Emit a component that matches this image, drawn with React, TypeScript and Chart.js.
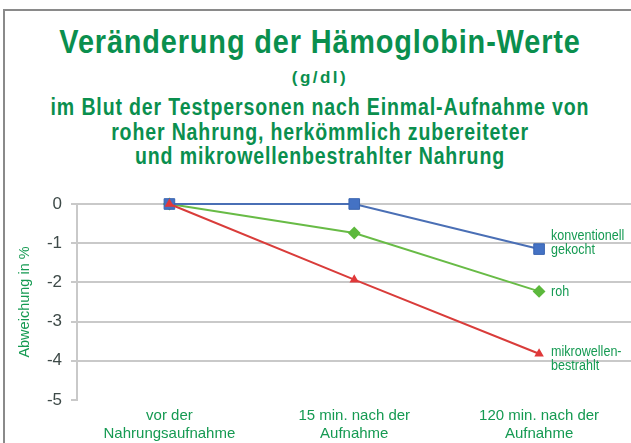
import React, { useEffect, useRef } from 'react';
import { Chart, registerables } from 'chart.js';
Chart.register(...registerables);

const categories = [
  ['vor der', 'Nahrungsaufnahme'],
  ['15 min. nach der', 'Aufnahme'],
  ['120 min. nach der', 'Aufnahme'],
];
const konventionell = [0, 0, -1.15];
const roh = [0, -0.74, -2.23];
const mikrowellen = [0, -1.93, -3.82];
const yTicks = [0, -1, -2, -3, -4, -5];
const labelKonv = ['konventionell', 'gekocht'];
const labelRoh = ['roh'];
const labelMikro = ['mikrowellen-', 'bestrahlt'];

const titleMain = 'Veränderung der Hämoglobin-Werte';
const titleUnit = '(g/dl)';
const subtitleLines = [
  'im Blut der Testpersonen nach Einmal-Aufnahme von',
  'roher Nahrung, herkömmlich zubereiteter',
  'und mikrowellenbestrahlter Nahrung',
];
const yTitle = 'Abweichung in %';

const GREEN = '#0a8f4e';
const LABEL_GREEN = '#159a52';
const SANS = '"Liberation Sans", Arial, sans-serif';

const endLabelPlugin = {
  id: 'endLabels',
  afterDatasetsDraw(chart: any) {
    const ctx = chart.ctx;
    ctx.save();
    chart.data.datasets.forEach((ds: any, i: number) => {
      const meta = chart.getDatasetMeta(i);
      const pt = meta.data[meta.data.length - 1];
      if (!pt || !ds.endLabel) return;
      ds.endLabel.forEach((line: string, j: number) => {
        ctx.save();
        ctx.translate(pt.x + 12, pt.y + ds.endLabelDy + j * 14);
        ctx.scale(0.81, 1);
        ctx.font = `15.5px ${SANS}`;
        ctx.fillStyle = LABEL_GREEN;
        ctx.textAlign = 'left';
        ctx.textBaseline = 'middle';
        ctx.fillText(line, 0, 0);
        ctx.restore();
      });
    });
    // short tick mark at the lowest value
    const y = chart.scales.y;
    const yb = y.getPixelForValue(yTicks[yTicks.length - 1]);
    ctx.strokeStyle = '#c9c9c9';
    ctx.lineWidth = 2;
    ctx.beginPath();
    ctx.moveTo(chart.chartArea.left - 6, yb);
    ctx.lineTo(chart.chartArea.left, yb);
    ctx.stroke();
    ctx.restore();
  },
};

export default function App() {
  const ref = useRef<HTMLCanvasElement>(null);
  useEffect(() => {
    if (!ref.current) return;
    const chart = new Chart(ref.current, {
      type: 'line',
      data: {
        labels: categories as any,
        datasets: [
          {
            label: 'mikrowellenbestrahlt',
            data: mikrowellen,
            borderColor: '#d93c3a',
            backgroundColor: '#e0393a',
            pointBackgroundColor: '#e0393a',
            pointBorderColor: '#e0393a',
            pointStyle: 'triangle',
            pointRadius: 3.5,
            borderWidth: 2,
            clip: false,
            endLabel: labelMikro,
            endLabelDy: -2,
          } as any,
          {
            label: 'konventionell gekocht',
            data: konventionell,
            borderColor: '#4a6fb5',
            backgroundColor: '#4472c4',
            pointBackgroundColor: '#4472c4',
            pointBorderColor: '#3a64b0',
            pointBorderWidth: 1,
            pointStyle: 'rect',
            pointRadius: 7.5,
            borderWidth: 2,
            clip: false,
            endLabel: labelKonv,
            endLabelDy: -13,
          } as any,
          {
            label: 'roh',
            data: roh,
            borderColor: '#68bb46',
            backgroundColor: '#5cb83c',
            pointBackgroundColor: '#5cb83c',
            pointBorderColor: '#5cb83c',
            pointStyle: 'rectRot',
            pointRadius: 5,
            borderWidth: 2,
            clip: false,
            endLabel: labelRoh,
            endLabelDy: 0,
          } as any,
        ],
      },
      options: {
        responsive: false,
        animation: false,
        layout: { padding: { top: 204, left: 0, right: 8, bottom: 0 } },
        plugins: {
          legend: { display: false },
          tooltip: { enabled: false },
          title: { display: false },
        },
        scales: {
          x: {
            type: 'category',
            offset: true,
            grid: { display: false, drawTicks: false },
            border: { display: false },
            ticks: {
              color: LABEL_GREEN,
              font: { family: 'Liberation Sans', size: 15 },
              padding: 7,
              maxRotation: 0,
              autoSkip: false,
            },
            afterFit: (s: any) => {
              s.height = 43;
            },
          },
          y: {
            min: -5,
            max: 0,
            afterBuildTicks: (s: any) => {
              s.ticks = yTicks.map((v) => ({ value: v }));
            },
            ticks: {
              color: '#3e4a48',
              font: { family: 'Liberation Sans', size: 17 },
              padding: 9,
            },
            grid: {
              color: (c: any) => (c.tick && c.tick.value === -5 ? 'rgba(0,0,0,0)' : '#c9c9c9'),
              lineWidth: 2,
              tickLength: 6,
            },
            border: { display: true, color: '#c9c9c9', width: 2 },
            title: {
              display: true,
              text: yTitle,
              color: LABEL_GREEN,
              font: { family: 'Liberation Sans', size: 14.5 },
              padding: { top: 16, bottom: 0 },
            },
            afterFit: (s: any) => {
              s.width = 77;
            },
          },
        },
      } as any,
      plugins: [endLabelPlugin],
    });
    return () => chart.destroy();
  }, []);

  const titleStyle = (top: number, size: number, ls: number, sx: number): React.CSSProperties => ({
    position: 'absolute',
    left: 0,
    width: 640,
    top,
    textAlign: 'center',
    fontFamily: SANS,
    fontWeight: 'bold',
    fontSize: size,
    lineHeight: `${size}px`,
    letterSpacing: ls,
    color: GREEN,
    whiteSpace: 'nowrap',
    transform: `scaleX(${sx})`,
    transformOrigin: '320px 50%',
  });

  return (
    <div
      style={{
        position: 'fixed',
        left: 0,
        top: 0,
        width: 631,
        height: 443,
        overflow: 'hidden',
        background: '#fff',
      }}
    >
      <div
        style={{
          position: 'absolute',
          left: 3,
          top: 9,
          width: 700,
          height: 500,
          borderTop: '2px solid #8a8a8a',
          borderLeft: '2px solid #8a8a8a',
        }}
      />
      <div style={titleStyle(24, 34, 1.0, 0.85)}>{titleMain}</div>
      <div style={titleStyle(69, 17, 2.5, 1)}>{titleUnit}</div>
      {subtitleLines.map((l, i) => (
        <div key={i} style={titleStyle(96 + i * 24.5, 23, 1.0, 0.85)}>
          {l}
        </div>
      ))}
      <canvas
        ref={ref}
        width={640}
        height={443}
        style={{ position: 'absolute', left: 0, top: 0, width: 640, height: 443 }}
      />
    </div>
  );
}
